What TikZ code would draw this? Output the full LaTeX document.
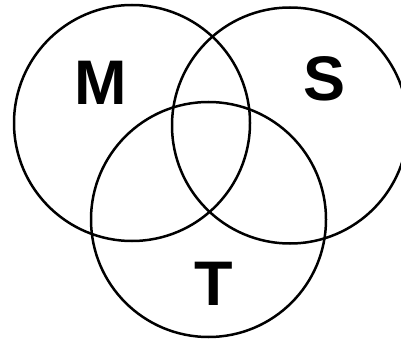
\documentclass[tikz,border=0pt]{standalone}
\usepackage{fontspec}
\setmainfont{Liberation Sans}
\begin{document}
\begin{tikzpicture}[x=1pt,y=-1pt,
  ring/.style={draw=black,line width=2.5pt},
  lbl/.style={font=\fontsize{63}{63}\selectfont\bfseries,inner sep=0pt,anchor=base}]
\useasboundingbox (0,0) rectangle (401,339);
\begin{scope}
\clip (0,0) rectangle (401,339);
\draw[ring] (132,123) circle[radius=118] coordinate (cm);
\draw[ring] (290,125.5) circle[radius=118];
\draw[ring] (208.5,219.5) circle[radius=117.5];
\end{scope}
\node[lbl] (M) at (100.5,105) {M};
\node[lbl] (S) at (325,101) {S};
\node[lbl] (T) at (214,305) {T};
\end{tikzpicture}
\end{document}
